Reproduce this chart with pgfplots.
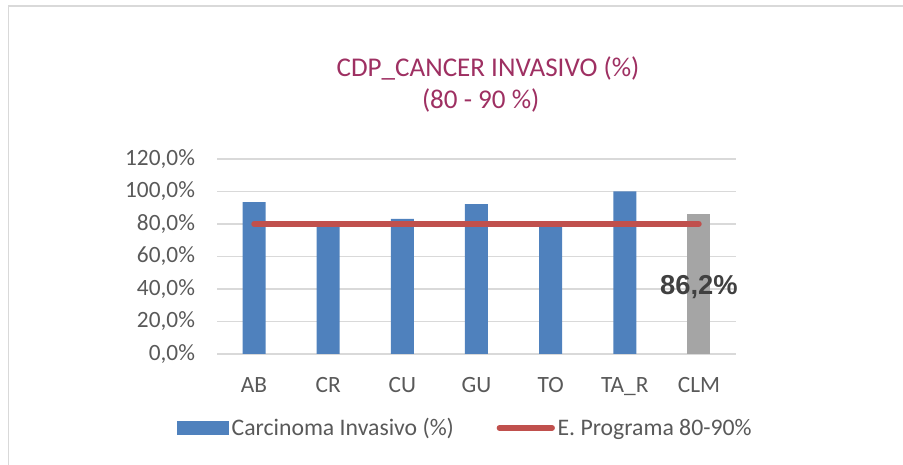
\documentclass[border=0pt]{standalone}
\usepackage{pgfplots}
\pgfplotsset{compat=1.18}
\usepackage{fontspec}
\setmainfont{Carlito}
\newfontfamily\arialfont{Liberation Sans}
\definecolor{barblue}{HTML}{4F81BD}
\definecolor{bargray}{HTML}{A5A5A5}
\definecolor{linered}{HTML}{C0504D}
\definecolor{titlecol}{RGB}{158,48,98}
\definecolor{txtgray}{HTML}{595959}
\definecolor{gridgray}{HTML}{D9D9D9}
\begin{document}
\begin{tikzpicture}
\useasboundingbox (0,0) rectangle (677.25pt,348pt);
\draw[gridgray, line width=1.2pt] (6.5pt,343.5pt) rectangle (720pt,-30pt);
\node[titlecol, font=\fontsize{20.3}{23}\selectfont] at (366pt,296.6pt) {CDP\_CANCER INVASIVO (\%)};
\node[titlecol, font=\fontsize{20.3}{23}\selectfont] at (360.5pt,272.6pt) {(80 - 90 \%)};
\begin{axis}[
  at={(162.75pt,82.5pt)}, anchor=south west,
  scale only axis, width=389.25pt, height=146.25pt,
  xmin=-0.5, xmax=6.5, ymin=0, ymax=120,
  xtick={0,1,2,3,4,5,6},
  xticklabels={AB,CR,CU,GU,TO,TA\_R,CLM},
  ytick={0,20,40,60,80,100,120},
  yticklabel={\pgfmathprintnumber[fixed,fixed zerofill,precision=1,use comma]{\tick}\%},
  /pgf/number format/assume math mode=true,
  ymajorgrids, grid style={gridgray, line width=0.9pt},
  axis line style={draw=none},
  major tick style={draw=none},
  tick label style={txtgray, font=\fontsize{17.5}{20}\selectfont},
  yticklabel style={xshift=-13pt},
  xticklabel style={yshift=-14pt},
  legend columns=2,
  legend style={at={(0.479,-0.379)}, anchor=center, draw=none, fill=none,
    font=\fontsize{17.8}{20}\selectfont, text=txtgray,
    /tikz/every even column/.append style={column sep=30pt}},
]
\addplot[ybar, bar width=17.25pt, bar shift=0pt, fill=barblue, draw=none,
  legend image code/.code={\fill[barblue] (0pt,-5pt) rectangle (39pt,5pt);}]
  coordinates {(0,93.5) (1,79.5) (2,83.1) (3,92.3) (4,79.5) (5,100)};
\addlegendentry{Carcinoma Invasivo (\%)}
\addplot[ybar, bar width=17.25pt, bar shift=0pt, fill=bargray, draw=none, forget plot,
  nodes near coords={\pgfmathprintnumber[fixed,fixed zerofill,precision=1,use comma]{\pgfplotspointmeta}\%},
  every node near coord/.append style={anchor=center, yshift=-55pt,
    font=\arialfont\bfseries\fontsize{20.5}{24}\selectfont, text={black!75}}]
  coordinates {(6,86.2)};
\addplot[linered, line width=4.2pt, line cap=round, mark=none,
  legend image code/.code={\draw[linered, line width=4.2pt, line cap=round] (1.5pt,0pt) -- (41pt,0pt);}]
  coordinates {(0,80) (1,80) (2,80) (3,80) (4,80) (5,80) (6,80)};
\addlegendentry{E. Programa 80-90\%}
\end{axis}
\end{tikzpicture}
\end{document}
